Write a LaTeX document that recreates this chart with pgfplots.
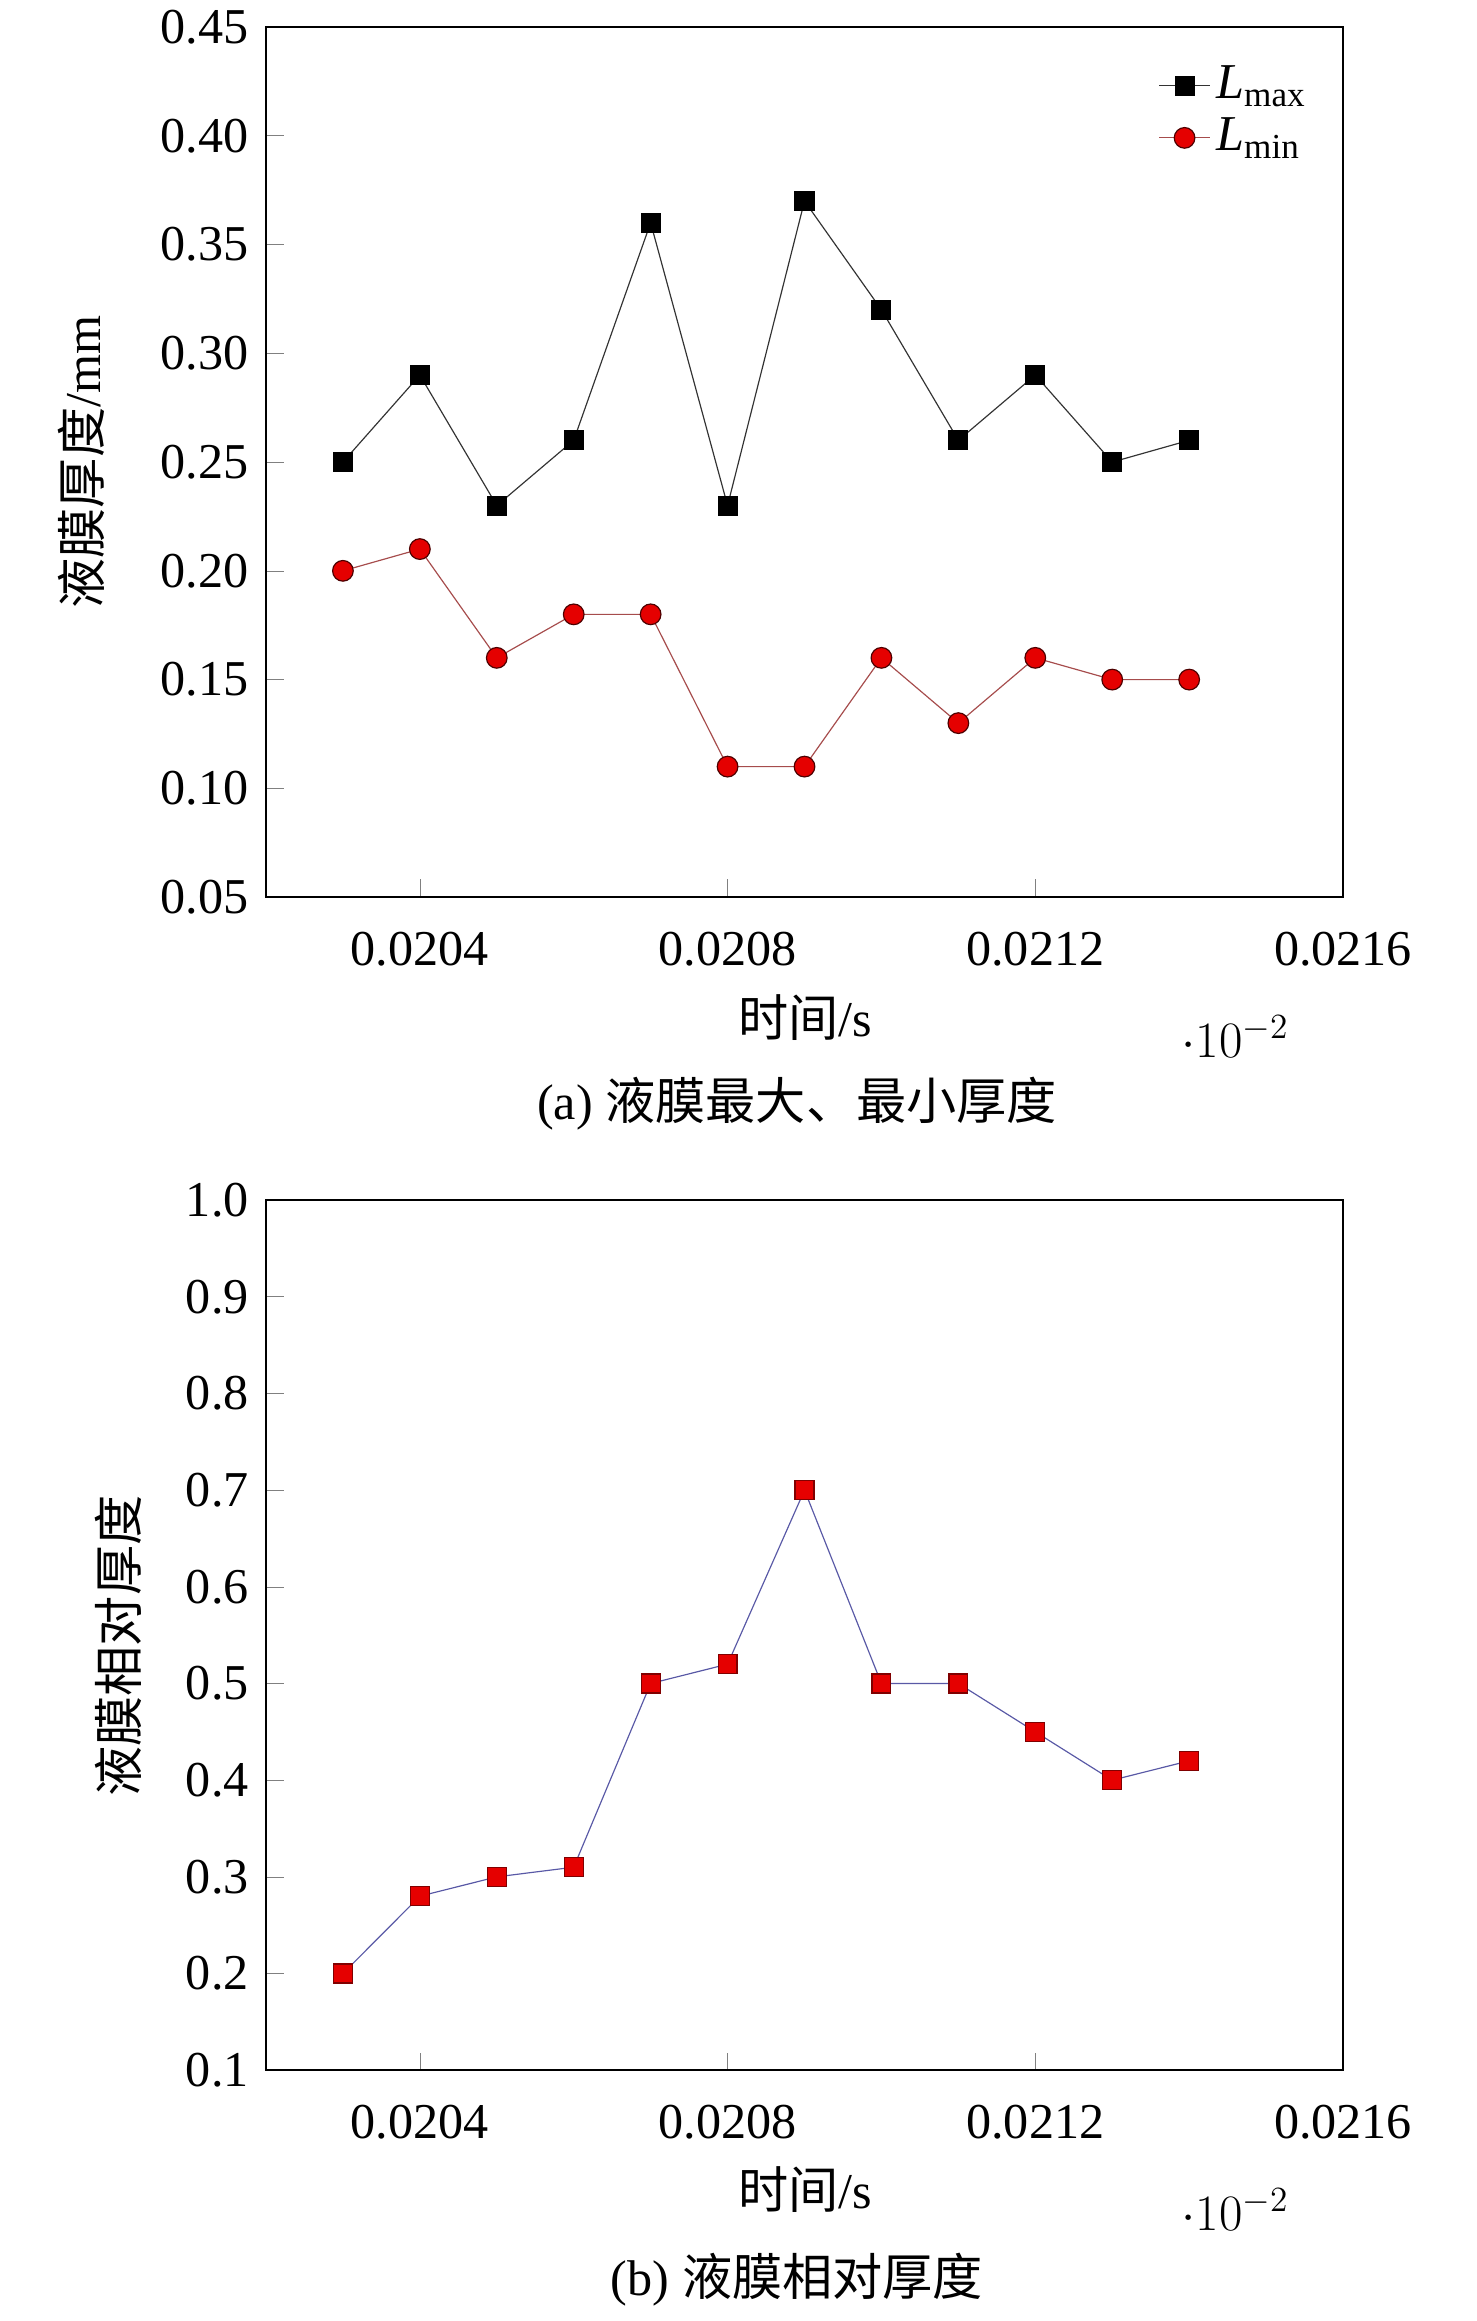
\documentclass[border=0pt]{standalone}
\usepackage{pgfplots}
\pgfplotsset{compat=1.18}
\usepackage{fontspec}
\setmainfont{Liberation Serif}
\newfontfamily\cjk{Noto Sans CJK SC}
\begin{document}
\fontsize{17}{20}\selectfont
\begin{tikzpicture}[x=0.3388pt,y=0.3388pt]
\useasboundingbox (0,0) rectangle (1476,-2321);
\pgfplotsset{myax/.style={
  scale only axis, width=364.9pt, height=294.8pt,
  xmin=0.0202, xmax=0.0216,
  xtick={0.0204,0.0208,0.0212,0.0216},
  xticklabels={0.0204,0.0208,0.0212,0.0216},
  tick align=inside, xtick pos=bottom, ytick pos=left,
  major tick length=6pt,
  /pgf/number format/assume math mode=true,
  ticklabel style={font=\fontsize{17}{20}\selectfont},
  xticklabel style={yshift=-6pt},
  yticklabel style={/pgf/number format/fixed,/pgf/number format/fixed zerofill},
  axis line style={line width=0.8pt},
}}
\begin{axis}[myax, at={(90.12pt,-9.15pt)}, anchor=north west,
  ymin=0.05, ymax=0.45, ytick={0.05,0.10,...,0.451},
  yticklabel style={/pgf/number format/precision=2},
  legend style={draw=none, fill=none, at={(0.98,0.97)}, anchor=north east, font=\fontsize{17}{20}\selectfont},
  legend cell align=left]
\addplot[black!80, thin, mark=square*, mark size=3.2pt, mark options={fill=black, draw=black}] coordinates {
(0.0203,0.25)(0.0204,0.29)(0.0205,0.23)(0.0206,0.26)(0.0207,0.36)(0.0208,0.23)
(0.0209,0.37)(0.0210,0.32)(0.0211,0.26)(0.0212,0.29)(0.0213,0.25)(0.0214,0.26)};
\addlegendentry{\textit{L}\textsubscript{max}}
\addplot[red!50!black!70, thin, mark=*, mark size=3.5pt, mark options={fill=red!90!black, draw=black!70!red}] coordinates {
(0.0203,0.20)(0.0204,0.21)(0.0205,0.16)(0.0206,0.18)(0.0207,0.18)(0.0208,0.11)
(0.0209,0.11)(0.0210,0.16)(0.0211,0.13)(0.0212,0.16)(0.0213,0.15)(0.0214,0.15)};
\addlegendentry{\textit{L}\textsubscript{min}}
\end{axis}
\node[rotate=90] at (81,-462) {{\cjk 液膜厚度}/mm};
\node at (805,-1018) {{\cjk 时间}/s};
\node at (797,-1104) {(a) {\cjk 液膜最大、最小厚度}};
\begin{axis}[myax, at={(90.12pt,-406.6pt)}, anchor=north west,
  ymin=0.1, ymax=1.0, ytick={0.1,0.2,...,1.01},
  yticklabel style={/pgf/number format/precision=1}]
\addplot[blue!30!gray, thin, mark=square*, mark size=3.2pt, mark options={fill=red!90!black, draw=red!50!black}] coordinates {
(0.0203,0.20)(0.0204,0.28)(0.0205,0.30)(0.0206,0.31)(0.0207,0.50)(0.0208,0.52)
(0.0209,0.70)(0.0210,0.50)(0.0211,0.50)(0.0212,0.45)(0.0213,0.40)(0.0214,0.42)};
\end{axis}
\node[rotate=90] at (118,-1646) {\cjk 液膜相对厚度};
\node at (805,-2190) {{\cjk 时间}/s};
\node at (797,-2280) {(b) {\cjk 液膜相对厚度}};
\end{tikzpicture}
\end{document}
